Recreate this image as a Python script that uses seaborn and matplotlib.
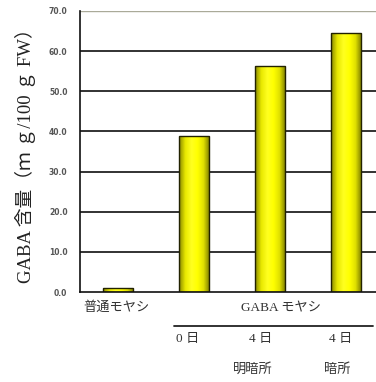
import matplotlib
matplotlib.use("Agg")
import matplotlib.pyplot as plt
import matplotlib.transforms as mtransforms
from matplotlib.colors import LinearSegmentedColormap
import seaborn as sns
import pandas as pd
import numpy as np

categories = ["普通モヤシ", "GABA 0日", "GABA 4日 明暗所", "GABA 4日 暗所"]
values = [1.0, 38.9, 56.4, 64.6]
yticks = [0, 10, 20, 30, 40, 50, 60, 70]
group_label = "GABA モヤシ"
day_labels = ["0 日", "4 日", "4 日"]
cond_labels = ["", "明暗所", "暗所"]
ylabel = "GABA 含量（ｍ ｇ/100 ｇ FW）"

sns.set_style("white")
plt.rcParams['font.family'] = ['Liberation Serif', 'Noto Sans CJK JP', 'DejaVu Sans']

df = pd.DataFrame({"cat": categories, "val": values})

fig = plt.figure(figsize=(3.76, 3.82), dpi=100)
ax = fig.add_axes([80/376, 90/382, 304/376, 281/382])
sns.barplot(data=df, x="cat", y="val", ax=ax, color="#F2F000",
            width=0.4, edgecolor="#222200", linewidth=1.0, saturation=1)

# gradient shading inside bars
cmap = LinearSegmentedColormap.from_list(
    "bar", ["#8a8a00", "#e8e800", "#ffff20", "#ffff00", "#e0e000", "#7a7a00"])
grad = np.linspace(0, 1, 64).reshape(1, -1)
for p in list(ax.patches):
    x0, y0 = p.get_x(), p.get_y()
    w, h = p.get_width(), p.get_height()
    im = ax.imshow(grad, cmap=cmap, aspect="auto",
                   extent=[x0, x0 + w, y0, y0 + h], zorder=p.get_zorder() + 0.1)
    im.set_clip_path(p)
    p.set_facecolor("none")
    p.set_zorder(p.get_zorder() + 0.2)

ax.set_ylim(0, 70)
ax.set_xlim(-0.5, 3.5)
ax.set_yticks(yticks)
ax.set_yticklabels([f"{t:.1f}" for t in yticks], fontsize=5.5, color="#555555",
                   family=['DejaVu Sans'], fontweight="bold")
ax.tick_params(axis='y', length=0, pad=9)
ax.set_xticks([])
ax.set_xlabel("")
ax.set_ylabel(ylabel, fontsize=13.5, color="#222222", labelpad=9)

for t in yticks[1:-1]:
    ax.axhline(t, color="#222222", lw=1.3, zorder=0)
ax.axhline(70, color="#aaaa99", lw=1.0, zorder=0)

for s in ["top", "right"]:
    ax.spines[s].set_visible(False)
ax.spines["left"].set_color("#111111")
ax.spines["left"].set_linewidth(1.2)
ax.spines["bottom"].set_color("#111111")
ax.spines["bottom"].set_linewidth(1.2)

trans = mtransforms.blended_transform_factory(ax.transData, fig.transFigure)
def fy(py):
    return 1 - py / 382

txt = dict(transform=trans, ha="center", va="center", color="#333333")
ax.text(-0.02, fy(308), categories[0], fontsize=9.5, **txt)
ax.text(2.15, fy(308), group_label, fontsize=9.5, **txt)
ax.plot([0.74, 3.35], [fy(326), fy(326)], transform=trans, color="#222222",
        lw=1.3, clip_on=False)
day_x = [0.91, 1.88, 2.93]
cond_x = [0.0, 1.78, 2.88]
for i, (d, c) in enumerate(zip(day_labels, cond_labels)):
    ax.text(day_x[i], fy(339), d, fontsize=9.5, **txt)
    if c:
        ax.text(cond_x[i], fy(370), c, fontsize=9.5, **txt)

fig.savefig("out.png", dpi=100)
